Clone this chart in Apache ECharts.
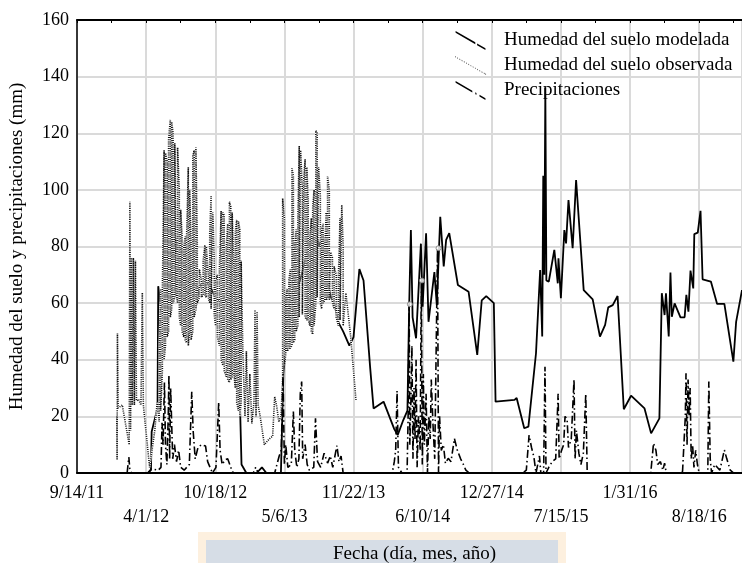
<!DOCTYPE html>
<html>
<head>
<meta charset="utf-8">
<title>Humedad del suelo</title>
<script src="https://cdn.jsdelivr.net/npm/echarts@6/dist/echarts.min.js"></script>
<style>
  html, body { margin: 0; padding: 0; background: #fff; }
  #chart { width: 742px; height: 563px; }
</style>
</head>
<body>
<div id="chart"></div>
<script>
  // dias desde 9/14/11
  const xTickLabels = ['9/14/11', '4/1/12', '10/18/12', '5/6/13', '11/22/13', '6/10/14', '12/27/14', '7/15/15', '1/31/16', '8/18/16'];
  const seriesNames = ['Humedad del suelo modelada', 'Humedad del suelo observada', 'Precipitaciones'];

  // humedad modelada [dia, mm]
  const modelada = [
    [99, 0], [205, 0], [214, 1], [216, 14.6], [233, 23], [235, 66], [243, 58], [255, 62], [270, 70], [281, 79],
    [285, 83], [296, 72], [310, 66], [325, 62], [340, 56], [355, 66], [370, 68], [385, 66], [400, 62], [420, 60],
    [441, 62], [452, 55], [466, 30], [472, 22], [476, 3], [490, 0], [520, 0], [535, 2], [548, 0], [590, 0],
    [594, 20], [597, 35], [606, 50], [615, 60], [630, 62], [650, 70], [670, 80], [686, 88], [700, 80], [712, 84],
    [720, 70], [735, 62], [744, 60], [757, 53], [770, 50], [788, 45], [800, 48], [817, 72], [829, 68], [848, 37.5],
    [858, 22.8], [887, 25.2], [918, 15.5], [928, 13.4], [944, 18.7], [956, 22], [961, 58.7], [966, 85.8], [971, 55], [981, 47.6],
    [995, 81], [1000, 58.7], [1010, 84.7], [1017, 53.4], [1034, 71], [1041, 59.3], [1051, 90.5], [1061, 73], [1068, 82.3], [1077, 84.7],
    [1102, 66.4], [1133, 64], [1158, 41.7], [1171, 61], [1184, 62.5], [1206, 60], [1211, 25.2], [1266, 25.8], [1272, 26.5], [1294, 15.8],
    [1306, 16.4], [1328, 42.3], [1340, 71.7], [1346, 48.2], [1349, 105], [1352, 70], [1355, 136], [1358, 68], [1365, 67.6], [1381, 78.8],
    [1391, 67], [1393, 75.8], [1400, 61.7], [1410, 85.8], [1415, 81.1], [1422, 96.4], [1434, 79.4], [1444, 103.5], [1466, 64.6], [1492, 61.3],
    [1513, 48.2], [1528, 52.3], [1537, 58.5], [1550, 59.3], [1564, 62.5], [1582, 22.5], [1603, 27.3], [1642, 22.8], [1661, 14], [1685, 19.3],
    [1692, 63.5], [1700, 55.8], [1704, 63.5], [1712, 48.2], [1717, 70.8], [1721, 55.2], [1729, 59.9], [1746, 55], [1758, 55], [1763, 62.9],
    [1769, 57], [1775, 71.5], [1783, 65.2], [1786, 84.4], [1796, 84.9], [1804, 92.6], [1810, 68.4], [1834, 67.6], [1852, 59.7], [1873, 59.7],
    [1899, 39.3], [1907, 53.4], [1924, 64.6]
  ];

  // humedad observada: tramos sueltos [dia, mm]
  const obsLead = [
    [115, 20], [116, 4.6], [117, 49.3], [119, 23], [131, 24], [151, 10], [153, 95.8], [155, 15], [157, 76], [160, 24],
    [163, 76], [166, 24], [169, 75], [172, 25.5], [178, 26], [185, 24], [189, 63.7], [192, 24], [210, 2], [225, 15], [232, 25]
  ];
  // bloques de oscilacion diaria [dia, minimo, maximo]
  const obsBlock2012 = [
    [238, 18, 45], [242, 22, 65], [247, 36, 64], [252, 40, 114], [256, 45, 113], [261, 48, 110], [265, 50, 118], [270, 55, 124.7],
    [274, 58, 124], [278, 60, 120], [283, 62, 116.5], [287, 63, 116], [291, 60, 115], [296, 55, 100], [300, 52, 93], [304, 50, 84],
    [309, 48, 80], [313, 47, 83.5], [317, 46, 83], [322, 45, 108], [326, 50, 100], [330, 47, 82], [335, 50, 112], [339, 55, 114],
    [344, 58, 115], [348, 60, 82], [354, 62, 72], [360, 62, 68], [365, 63, 75], [370, 63, 80.5], [374, 62, 80], [380, 62, 70],
    [384, 60, 85], [388, 58, 97.8], [393, 58, 92], [397, 56, 75], [401, 52, 68], [406, 48, 70], [412, 45, 72], [417, 40, 92.5],
    [422, 38, 92], [426, 36, 91], [432, 34, 80], [436, 33, 88], [441, 32, 95.8], [445, 33, 94], [449, 34, 92], [454, 35, 72],
    [458, 30, 85], [462, 25, 89.4], [467, 22, 89], [471, 20, 86], [475, 25, 75]
  ];
  const obsMid = [
    [480, 42], [486, 20], [490, 43], [495, 18], [500, 35], [506, 17.5], [512, 25], [515, 57.6], [518, 20], [521, 57],
    [524, 24], [530, 20], [542, 10], [556, 12], [566, 13], [572, 27], [578, 23.4], [584, 18], [590, 20]
  ];
  const obsBlock2013 = [
    [595, 33, 97], [600, 38, 90], [604, 42, 62], [608, 43, 65], [613, 44, 68], [617, 44, 72], [622, 45, 107.6], [626, 46, 105],
    [630, 47, 80], [634, 50, 86], [639, 52, 90], [643, 55, 115.5], [647, 55, 114], [652, 56, 100], [656, 56, 104], [660, 55, 110.8],
    [665, 54, 108], [669, 54, 96], [674, 52, 84], [678, 50, 90], [682, 49, 94], [686, 52, 100], [691, 60, 120.9], [695, 62, 120],
    [699, 62, 108], [704, 60, 98], [708, 58, 86], [712, 60, 88], [717, 61, 80], [721, 61, 92], [725, 62, 104.9], [730, 61, 100],
    [734, 61, 78], [739, 60, 76], [744, 58, 73], [750, 55, 70], [756, 52, 68], [761, 54, 90], [766, 54, 94.7], [770, 52, 80]
  ];
  const obsTail = [[778, 63.5], [792, 48], [807, 25.8]];
  const obsPoints2014 = [[963, 59.6], [998, 68], [1046, 79.4]];

  // precipitaciones [dia, mm]
  const precipitaciones = [
    [100, 0], [145, 0], [150, 5.6], [153, 1], [158, 0], [205, 0], [215, 1.5], [235, 1], [243, 2], [246, 17.7],
    [249, 10], [253, 32], [256, 10], [260, 3], [264, 20], [266, 34.6], [268, 5], [271, 30], [274, 17], [277, 5],
    [282, 10], [288, 4], [294, 8], [300, 2], [310, 1], [325, 3], [332, 28.7], [336, 15], [342, 5], [350, 9],
    [360, 10], [372, 9.5], [378, 4], [392, 0], [402, 2], [410, 25], [414, 8], [420, 3], [428, 4.6], [436, 5],
    [445, 2], [452, 0], [510, 0], [517, 2], [524, 0], [572, 0], [585, 6], [591, 8], [596, 35], [600, 3],
    [604, 10], [610, 2], [620, 3], [626, 21.7], [630, 8], [636, 2], [642, 5], [646, 28], [650, 32.3], [653, 5],
    [660, 10], [666, 3], [672, 1], [685, 2], [690, 19.3], [696, 4], [705, 2], [715, 7], [725, 3.5], [733, 6],
    [740, 2], [752, 9.7], [758, 4], [764, 6], [770, 0], [912, 0], [918, 4], [922, 8], [926, 29], [930, 2],
    [940, 0], [955, 0], [958, 20], [961, 59.6], [963, 10], [966, 25], [969, 45], [972, 5], [975, 30], [978, 12],
    [981, 40], [984, 2], [988, 20], [993, 8], [996, 68], [999, 3], [1002, 35], [1005, 10], [1010, 28], [1014, 0],
    [1018, 20], [1022, 12], [1025, 33], [1030, 17], [1035, 5], [1043, 79.4], [1046, 0], [1049, 20], [1054, 8], [1060, 10],
    [1066, 3.4], [1074, 5.2], [1082, 4], [1092, 12.2], [1100, 8.2], [1110, 5], [1118, 3], [1125, 1], [1135, 0], [1290, 0],
    [1300, 1], [1308, 13.4], [1315, 9], [1322, 5.6], [1328, 0], [1338, 6], [1342, 0], [1350, 0], [1354, 37.5], [1357, 0],
    [1365, 2], [1375, 4], [1385, 5], [1392, 28], [1395, 5], [1402, 8], [1408, 10], [1412, 20], [1418, 19], [1422, 9],
    [1430, 12], [1438, 33], [1441, 5], [1445, 15], [1452, 7], [1458, 3], [1465, 7], [1472, 28], [1476, 1], [1482, 0],
    [1660, 0], [1668, 10.5], [1675, 8], [1680, 3], [1688, 4], [1695, 1], [1700, 3.5], [1705, 0], [1740, 0], [1752, 0.5],
    [1757, 0], [1760, 20], [1762, 35.2], [1765, 10], [1768, 33], [1771, 20], [1774, 30], [1777, 5], [1781, 10], [1785, 2],
    [1790, 8], [1795, 3], [1800, 0], [1825, 0], [1828, 32.3], [1832, 5], [1836, 0], [1845, 3], [1860, 1], [1873, 8.1],
    [1880, 5], [1890, 1], [1900, 0], [1924, 0]
  ];

  const FONT = '"Liberation Serif", "Times New Roman", serif';

  // cada franja es vertical; se recorre alternando subida y bajada
  const stripes = (list) => {
    const out = [];
    list.forEach(([d, lo, hi], i) => {
      if (i % 2) out.push([d, hi], [d, lo]);
      else out.push([d, lo], [d, hi]);
    });
    return out;
  };
  const observada = [].concat(obsLead, stripes(obsBlock2012), obsMid, stripes(obsBlock2013), obsTail);

  // iconos inclinados de la leyenda
  const slantIcon = (segs, th) => {
    let d = '';
    segs.forEach(([a, b]) => {
      const x0 = a * 33, y0 = a * 19, x1 = b * 33, y1 = b * 19;
      d += 'M' + x0 + ',' + y0 + 'L' + x1 + ',' + y1 + 'L' + x1 + ',' + (y1 + th) + 'L' + x0 + ',' + (y0 + th) + 'Z';
    });
    return 'path://' + d;
  };
  const dotSegs = [];
  for (let i = 0; i < 14; i++) dotSegs.push([i / 14, i / 14 + 0.025]);
  dotSegs.push([0.975, 1]);

  const myChart = echarts.init(document.getElementById('chart'));
  myChart.setOption({
    animation: false,
    backgroundColor: '#fff',
    textStyle: { fontFamily: FONT },
    grid: { left: 77, right: 0, top: 20, bottom: 90 },
    legend: {
      left: 455,
      top: 31,
      orient: 'vertical',
      padding: 0,
      itemGap: 6,
      itemWidth: 33,
      itemHeight: 19,
      itemStyle: { borderWidth: 0 },
      textStyle: { fontSize: 19, color: '#000', fontFamily: FONT, padding: [0, 0, 0, 12] },
      data: [
        { name: seriesNames[0], icon: slantIcon([[0, 0.66], [0.72, 1]], 2) },
        { name: seriesNames[1], icon: slantIcon(dotSegs, 1.2) },
        { name: seriesNames[2], icon: slantIcon([[0, 0.56], [0.66, 0.7], [0.8, 1]], 2) }
      ]
    },
    xAxis: [
      {
        type: 'value',
        min: 0,
        max: 1924,
        interval: 200,
        position: 'bottom',
        axisLine: { lineStyle: { color: '#000', width: 2 } },
        axisTick: { show: false },
        splitLine: { show: true, lineStyle: { color: '#dadada', width: 2 } },
        axisLabel: {
          fontSize: 18,
          color: '#000',
          fontFamily: FONT,
          margin: 8,
          lineHeight: 24,
          showMaxLabel: false,
          formatter: function (val) {
            const i = Math.round(val / 200);
            if (Math.abs(val - i * 200) > 0.5 || !xTickLabels[i]) return '';
            return i % 2 ? '\n' + xTickLabels[i] : xTickLabels[i];
          }
        }
      },
      {
        type: 'value',
        min: 0,
        max: 1924,
        interval: 100,
        position: 'top',
        axisLine: { lineStyle: { color: '#000', width: 2 } },
        axisTick: { show: true, inside: true, length: 3, lineStyle: { color: '#000', width: 1 } },
        axisLabel: { show: false },
        splitLine: { show: false }
      }
    ],
    yAxis: {
      type: 'value',
      min: 0,
      max: 160,
      interval: 20,
      name: 'Humedad del suelo y precipitaciones (mm)',
      nameLocation: 'middle',
      nameGap: 50,
      nameTextStyle: { fontSize: 19, color: '#000', fontFamily: FONT },
      axisLine: { show: true, lineStyle: { color: '#000', width: 1.5 } },
      axisTick: { show: false },
      axisLabel: { fontSize: 18, color: '#000', fontFamily: FONT, margin: 8 },
      splitLine: { lineStyle: { color: '#dadada', width: 2 } }
    },
    graphic: [
      { type: 'rect', left: 198, top: 532, shape: { width: 368, height: 40 }, style: { fill: '#fdf0df' } },
      { type: 'rect', left: 206, top: 540, shape: { width: 352, height: 40 }, style: { fill: '#d6dde6' } },
      {
        type: 'text',
        left: 333,
        top: 545,
        style: { text: 'Fecha (día, mes, año)', font: '19px "Liberation Serif"', fill: '#000' }
      }
    ],
    series: [
      {
        name: seriesNames[0],
        type: 'line',
        data: modelada,
        symbol: 'none',
        itemStyle: { color: '#000' },
        lineStyle: { color: '#000', width: 1.8 },
        z: 2
      },
      {
        // fondo blanco de la linea punteada
        name: 'obsFondo',
        type: 'line',
        data: observada,
        symbol: 'none',
        silent: true,
        lineStyle: { color: '#fff', width: 1.6 },
        z: 3
      },
      {
        name: seriesNames[1],
        type: 'line',
        data: observada,
        symbol: 'none',
        itemStyle: { color: '#444' },
        lineStyle: { color: '#111', width: 1.6, type: [1, 1.2] },
        z: 3
      },
      {
        name: seriesNames[2],
        type: 'line',
        data: precipitaciones,
        symbol: 'none',
        itemStyle: { color: '#000' },
        lineStyle: { color: '#000', width: 1.6, type: [8, 3, 1.5, 3] },
        z: 4
      },
      {
        name: 'obs2014',
        type: 'scatter',
        data: obsPoints2014,
        symbolSize: 5,
        silent: true,
        itemStyle: { color: '#fff', borderColor: '#777', borderWidth: 1 },
        z: 5
      }
    ]
  });
</script>
</body>
</html>
